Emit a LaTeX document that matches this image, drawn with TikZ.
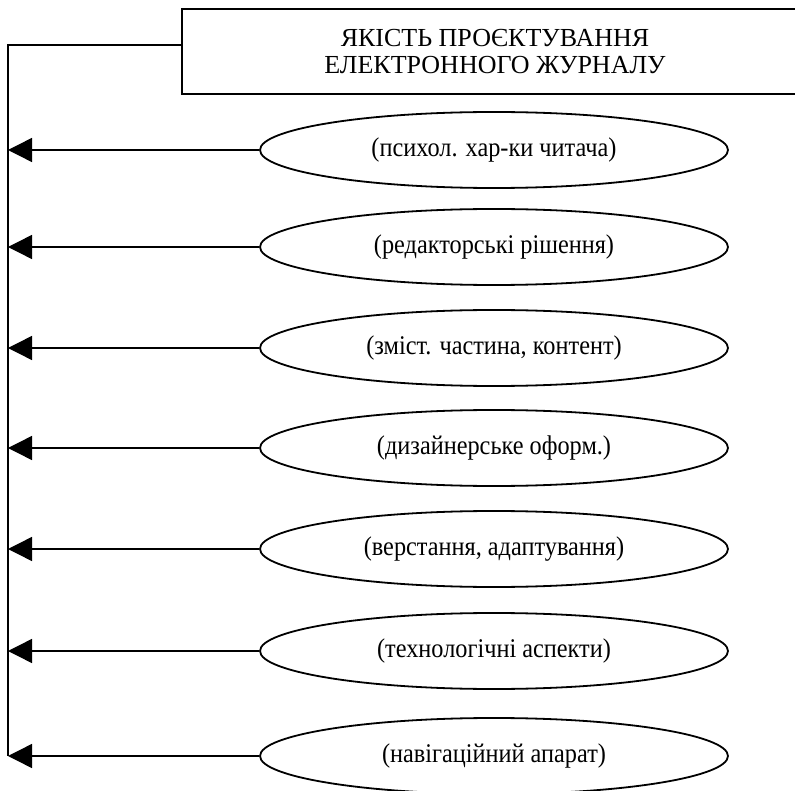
\documentclass[tikz,border=0pt]{standalone}
\usepackage{fontspec}
\setmainfont{Liberation Serif}
\newfontfamily\ovalfont{Liberation Serif}[FakeStretch=0.9]
\usetikzlibrary{shapes.geometric}
\usetikzlibrary{arrows.meta}
\usetikzlibrary{positioning}

\tikzset{
  ovalbox/.style={draw, line width=1.8pt, ellipse, minimum width=468pt,
    minimum height=76pt, inner sep=0pt, font=\ovalfont\fontsize{27}{30}\selectfont},
  titlebox/.style={draw, line width=1.8pt, minimum width=626pt,
    minimum height=85pt, align=center, font=\fontsize{26}{27}\selectfont},
  feed/.style={line width=1.4pt, -{Triangle[length=24pt,width=24pt]}}
}

\begin{document}
\begin{tikzpicture}[x=1pt,y=-1pt]
\useasboundingbox (0,0) rectangle (795,791);
\node[titlebox] (title) at (495,51.5) {ЯКІСТЬ ПРОЄКТУВАННЯ\\ЕЛЕКТРОННОГО ЖУРНАЛУ};
\coordinate (top) at (8,45);
\coordinate (bot) at (8,756);
\draw[line width=1.4pt] (title.west |- top) -- (top) -- (bot);
\foreach \i/\y/\txt in {1/150/{(психол. хар-ки читача)},
                        2/247/{(редакторські рішення)},
                        3/348/{(зміст. частина, контент)},
                        4/448/{(дизайнерське оформ.)},
                        5/549/{(верстання, адаптування)},
                        6/651/{(технологічні аспекти)},
                        7/756/{(навігаційний апарат)}}
{
\node[ovalbox] (e\i) at (494,\y) {\txt};
\draw[feed] (e\i.west) -- (e\i.west -| top);
}
\end{tikzpicture}
\end{document}
